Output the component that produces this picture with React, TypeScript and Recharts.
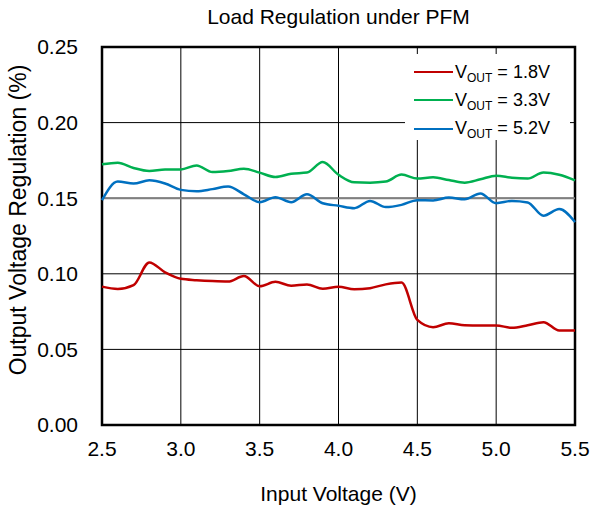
import React from 'react';
import {
  LineChart,
  Line,
  XAxis,
  YAxis,
  CartesianGrid,
  Legend,
  ReferenceLine,
  ReferenceArea,
} from 'recharts';

const inputVoltage = [
  2.5, 2.6, 2.7, 2.8, 2.9, 3.0, 3.1, 3.2, 3.3, 3.4, 3.5, 3.6, 3.7, 3.8, 3.9, 4.0,
  4.1, 4.2, 4.3, 4.4, 4.5, 4.6, 4.7, 4.8, 4.9, 5.0, 5.1, 5.2, 5.3, 5.4, 5.5,
];

const vout18 = [
  0.0915, 0.09, 0.0925, 0.1075, 0.101, 0.0967, 0.0958, 0.0952, 0.0949, 0.0985, 0.0917,
  0.0947, 0.0921, 0.093, 0.0901, 0.0914, 0.0898, 0.0905, 0.093, 0.0942, 0.0695, 0.0647,
  0.0673, 0.066, 0.0658, 0.0658, 0.0643, 0.066, 0.068, 0.0625, 0.0625,
];

const vout33 = [
  0.1724, 0.1735, 0.17, 0.168, 0.169, 0.169, 0.1717, 0.1673, 0.168, 0.1695, 0.1669,
  0.164, 0.1662, 0.167, 0.1739, 0.1655, 0.1605, 0.1603, 0.161, 0.1656, 0.163, 0.1638,
  0.162, 0.1603, 0.1625, 0.1649, 0.1635, 0.163, 0.167, 0.1655, 0.1618,
];

const vout52 = [
  0.1487, 0.161, 0.1597, 0.1618, 0.1597, 0.1555, 0.1546, 0.156, 0.1577, 0.1526, 0.1474,
  0.1507, 0.1474, 0.1526, 0.1467, 0.145, 0.1434, 0.1482, 0.1441, 0.1456, 0.1487, 0.1485,
  0.1504, 0.1493, 0.1531, 0.1467, 0.1482, 0.1472, 0.1384, 0.1428, 0.1342,
];

const xTicks = [2.5, 3.0, 3.5, 4.0, 4.5, 5.0, 5.5];
const yTicks = [0, 0.05, 0.1, 0.15, 0.2, 0.25];

const series = [
  { key: 'v18', label: '1.8V', color: '#c00000' },
  { key: 'v33', label: '3.3V', color: '#00b050' },
  { key: 'v52', label: '5.2V', color: '#0070c0' },
];

const data = inputVoltage.map((v, i) => ({
  vin: v,
  v18: vout18[i],
  v33: vout33[i],
  v52: vout52[i],
}));

const FONT = '"Liberation Sans", Arial, sans-serif';

const renderLegend = () => (
  <div
    style={{
      background: '#fff',
      width: 165,
      height: 86,
      paddingTop: 4,
      boxSizing: 'border-box',
      fontFamily: FONT,
      fontSize: 18,
      color: '#000',
    }}
  >
    {series.map((s) => (
      <div key={s.key} style={{ height: 28.3, display: 'flex', alignItems: 'center' }}>
        <svg width={39} height={4} style={{ marginLeft: 9, marginRight: 2 }}>
          <line x1={0} y1={2} x2={39} y2={2} stroke={s.color} strokeWidth={2} />
        </svg>
        <span style={{ whiteSpace: 'nowrap' }}>
          V<span style={{ fontSize: 12, position: 'relative', top: 4 }}>OUT</span> = {s.label}
        </span>
      </div>
    ))}
  </div>
);

export default function App() {
  return (
    <div style={{ position: 'relative', width: 590, height: 508, background: '#fff' }}>
      <style>{`body{margin:0}`}</style>
      <div
        style={{
          position: 'absolute',
          top: 5,
          left: 102,
          width: 473,
          textAlign: 'center',
          fontFamily: FONT,
          fontSize: 21,
          color: '#000',
        }}
      >
        Load Regulation under PFM
      </div>
      <LineChart
        width={590}
        height={508}
        data={data}
        margin={{ top: 47, right: 15, bottom: 0, left: 0 }}
      >
        <CartesianGrid stroke="#000" strokeWidth={1} />
        <XAxis
          dataKey="vin"
          type="number"
          domain={[2.5, 5.5]}
          ticks={xTicks}
          tickFormatter={(v: number) => v.toFixed(1)}
          height={83}
          axisLine={false}
          tickLine={false}
          tickMargin={10}
          tick={{ fill: '#000', fontSize: 21, fontFamily: FONT }}
          label={{
            content: (props: any) => {
              const vb = props.viewBox;
              return (
                <text
                  x={vb.x + vb.width / 2}
                  y={493}
                  textAnchor="middle"
                  dominantBaseline="central"
                  fill="#000"
                  fontSize={21}
                  fontFamily={FONT}
                >
                  Input Voltage (V)
                </text>
              );
            },
          }}
        />
        <YAxis
          type="number"
          domain={[0, 0.25]}
          ticks={yTicks}
          tickFormatter={(v: number) => v.toFixed(2)}
          width={102}
          axisLine={false}
          tickLine={false}
          tickMargin={18}
          tick={{ fill: '#000', fontSize: 21, fontFamily: FONT }}
          label={{
            content: () => (
              <text
                x={18}
                y={220}
                transform="rotate(-90, 18, 220)"
                textAnchor="middle"
                dominantBaseline="central"
                fill="#000"
                fontSize={23}
                fontFamily={FONT}
              >
                Output Voltage Regulation (%)
              </text>
            ),
          }}
        />
        <ReferenceLine y={0.15} stroke="#808080" strokeWidth={2} />
        {series.map((s) => (
          <Line
            key={s.key}
            dataKey={s.key}
            type="monotone"
            stroke={s.color}
            strokeWidth={2.5}
            dot={false}
            isAnimationActive={false}
          />
        ))}
        <ReferenceArea
          x1={2.5}
          x2={5.5}
          y1={0}
          y2={0.25}
          fill="none"
          fillOpacity={0}
          stroke="#000"
          strokeWidth={2.5}
        />
        <Legend
          layout="vertical"
          align="center"
          verticalAlign="middle"
          content={renderLegend}
          wrapperStyle={{ position: 'absolute', left: 405, top: 54, width: 165, height: 86 }}
        />
      </LineChart>
    </div>
  );
}
